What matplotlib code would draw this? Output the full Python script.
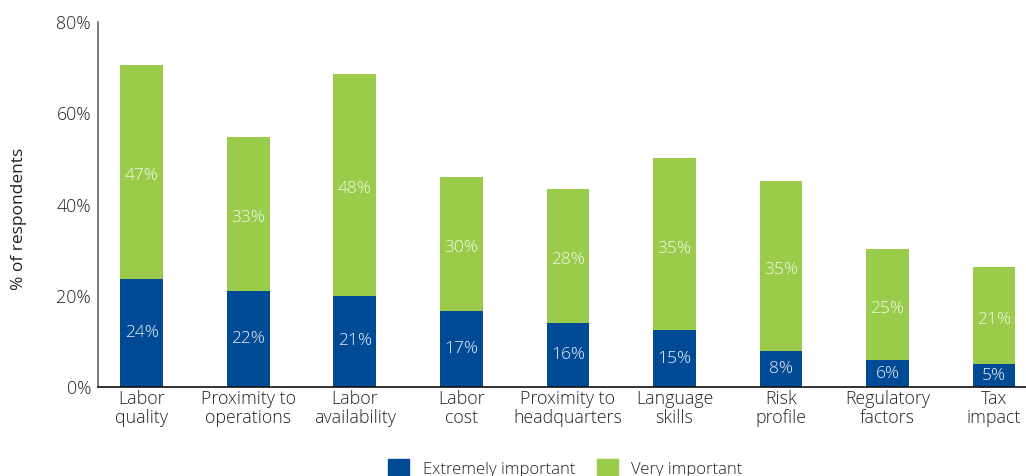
import numpy as np
import matplotlib.pyplot as plt
from matplotlib.patches import Patch

plt.rcParams['font.family'] = ['Open Sans', 'DejaVu Sans']
plt.rcParams['font.weight'] = 'light'

categories = ['Labor\nquality', 'Proximity to\noperations', 'Labor\navailability', 'Labor\ncost',
              'Proximity to\nheadquarters', 'Language\nskills', 'Risk\nprofile', 'Regulatory\nfactors',
              'Tax\nimpact']
# bar heights as drawn
extremely = [23.7, 21.1, 20.0, 16.7, 14.1, 12.4, 8.0, 5.9, 5.0]
very = [46.9, 33.7, 48.7, 29.4, 29.4, 37.8, 37.2, 24.3, 21.3]
# printed labels
extremely_lbl = ['24%', '22%', '21%', '17%', '16%', '15%', '8%', '6%', '5%']
very_lbl = ['47%', '33%', '48%', '30%', '28%', '35%', '35%', '25%', '21%']

blue = '#004A96'
green = '#9BCB4B'
txt = '#222222'

fig = plt.figure(figsize=(10.26, 4.76), dpi=100)
ax = fig.add_axes([98 / 1026, 89 / 476, 928 / 1026, 365 / 476])

x = np.arange(len(categories))
ax.bar(x, extremely, width=0.4, color=blue)
ax.bar(x, very, width=0.4, bottom=extremely, color=green)

for i in range(len(x)):
    ax.text(x[i], extremely[i] / 2, extremely_lbl[i], ha='center', va='center',
            color='#eef2f6', fontsize=12.5)
    ax.text(x[i], extremely[i] + very[i] / 2 - 1, very_lbl[i], ha='center', va='center',
            color='#f4f8ee', fontsize=12.5)

ax.set_xlim(-0.41, 8.3)
ax.set_ylim(0, 80)
ax.set_yticks([0, 20, 40, 60, 80])
ax.set_yticklabels(['0%', '20%', '40%', '60%', '80%'])
ax.set_xticks(x)
ax.set_xticklabels(categories, linespacing=1.1)
ax.tick_params(length=0, labelsize=12.8, colors=txt, pad=5)
ax.tick_params(axis='x', pad=2)
ax.set_ylabel('% of respondents', fontsize=12.5, color=txt)
ax.yaxis.set_label_coords(-0.077, 0.46)

ax.spines['top'].set_visible(False)
ax.spines['right'].set_visible(False)
ax.spines['left'].set_color('#666666')
ax.spines['left'].set_linewidth(1.2)
ax.spines['bottom'].set_color('#111111')
ax.spines['bottom'].set_linewidth(1.2)

handles = [Patch(color=blue), Patch(color=green)]
fig.legend(handles, ['Extremely important', 'Very important'], loc='lower center',
           bbox_to_anchor=(0.551, -0.035), ncol=2, frameon=False, fontsize=12,
           handlelength=1.25, handleheight=1.25, handletextpad=0.8, columnspacing=1.3,
           labelcolor=txt)

fig.savefig('out.png', dpi=100)
